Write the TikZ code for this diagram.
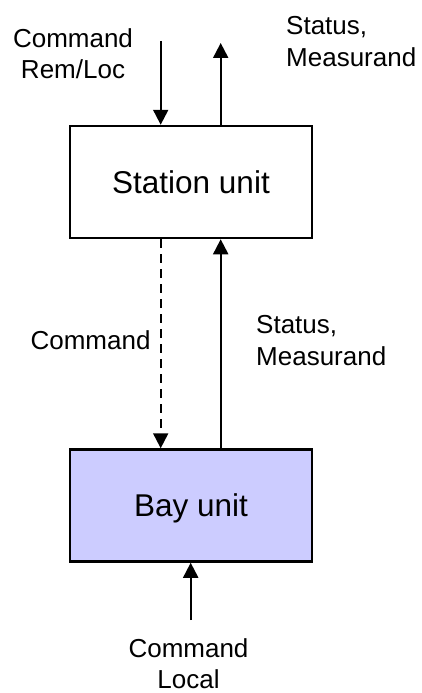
\documentclass[tikz,border=0pt]{standalone}
\usepackage{fontspec}
\setmainfont{Liberation Sans}
\usetikzlibrary{arrows.meta}
\definecolor{bayfill}{RGB}{204,204,255}
\begin{document}
\begin{tikzpicture}[x=1pt,y=-1pt,
  unitbox/.style={draw,line width=2.5pt,minimum width=242pt,minimum height=112pt,
    inner sep=0pt,font=\fontsize{31.5}{36}\selectfont,text depth=0pt},
  lbl/.style={font=\fontsize{26}{31.5}\selectfont,inner sep=0pt},
  flow/.style={line width=2pt,-{Triangle[width=15pt,length=15pt]}},
  ]
\useasboundingbox (0,0) rectangle (421,693);

% the two units
\node[unitbox] (station) at (191,182) {Station unit};
\node[unitbox,fill=bayfill] (bay) at (191,505.5) {Bay unit};

% free ends of the outer connectors
\coordinate (cmdin) at (160.7,41);
\coordinate (statout) at (220.7,43);
\coordinate (localin) at (190.7,620);

% connectors
\draw[flow] (cmdin) -- (cmdin |- station.north);
\draw[flow] (station.north -| statout) -- (statout);
\draw[flow,dash pattern=on 9pt off 6pt] (station.south -| cmdin) -- (bay.north -| cmdin);
\draw[flow] (bay.north -| statout) -- (station.south -| statout);
\draw[flow] (localin) -- (bay.south -| localin);

% labels
\node[lbl,align=center,anchor=north] (cmdremloc) at (73,28.4) {Command\\Rem/Loc};
\node[lbl,align=left,anchor=north west] (stattop) at (286,16.4) {Status,\\Measurand};
\node[lbl,anchor=base east] (cmdmid) at (150.7,349) {Command};
\node[lbl,align=left,anchor=north west] (statmid) at (256,315.4) {Status,\\Measurand};
\node[lbl,align=center,anchor=north] (cmdlocal) at (188.5,638.4) {Command\\Local};
\end{tikzpicture}
\end{document}
